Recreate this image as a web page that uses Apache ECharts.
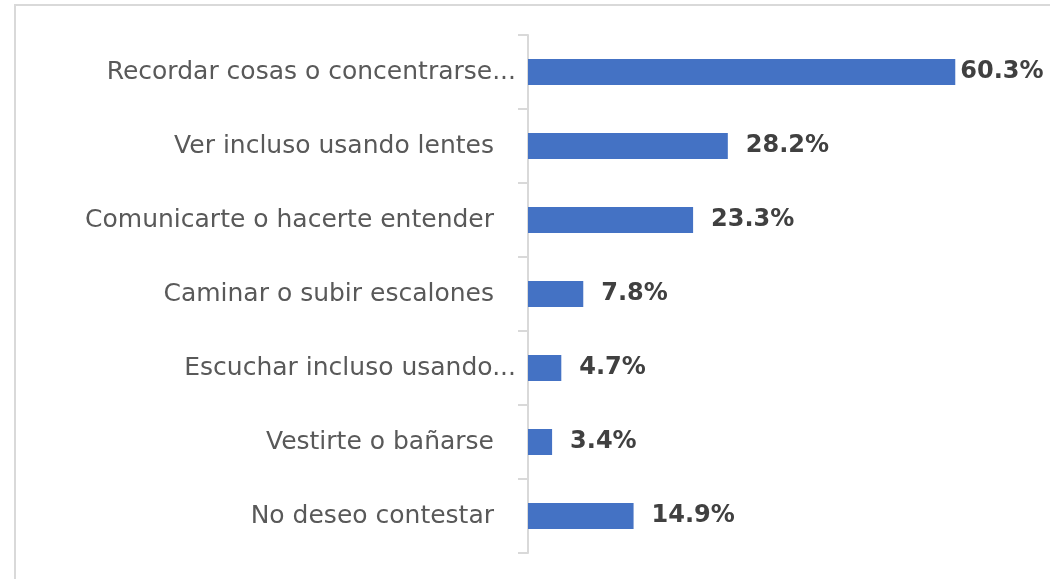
<!DOCTYPE html>
<html>
<head>
<meta charset="utf-8">
<script src="https://cdn.jsdelivr.net/npm/echarts@6/dist/echarts.min.js"></script>
<style>
  html, body { margin: 0; padding: 0; background: #fff; }
  #main { width: 1050px; height: 579px; }
</style>
</head>
<body>
<div id="main"></div>
<script>
// categorias y porcentajes
var categorias = [
  'Recordar cosas o concentrarse...',
  'Ver incluso usando lentes',
  'Comunicarte o hacerte entender',
  'Caminar o subir escalones',
  'Escuchar incluso usando...',
  'Vestirte o bañarse',
  'No deseo contestar'
];
var porcentajes = [60.3, 28.2, 23.3, 7.8, 4.7, 3.4, 14.9];

var chart = echarts.init(document.getElementById('main'));

var datos = porcentajes.map(function (v, i) {
  var item = { value: v };
  if (i === 0) {
    item.label = { distance: 5 };
  }
  return item;
});

var option = {
  backgroundColor: '#ffffff',
  animation: false,
  graphic: [{
    type: 'rect',
    shape: { x: 15, y: 5, width: 1200, height: 800 },
    style: { fill: 'none', stroke: '#d9d9d9', lineWidth: 2 },
    silent: true
  }],
  grid: {
    left: 528,
    right: 26,
    top: 35,
    bottom: 26
  },
  xAxis: {
    type: 'value',
    min: 0,
    max: 70,
    show: false
  },
  yAxis: {
    type: 'category',
    inverse: true,
    data: categorias,
    axisLine: { show: true, lineStyle: { color: '#d9d9d9', width: 2 } },
    axisTick: { show: true, length: 10, lineStyle: { color: '#d9d9d9', width: 2 } },
    axisLabel: {
      margin: 12,
      fontFamily: 'DejaVu Sans',
      fontSize: 25,
      color: '#595959',
      formatter: function (val) {
        if (val.indexOf('...') >= 0) return val;
        return '{n|' + val + '}';
      },
      rich: {
        n: {
          fontFamily: 'DejaVu Sans',
          fontSize: 25,
          color: '#595959',
          padding: [0, 22, 0, 0]
        }
      }
    }
  },
  series: [{
    type: 'bar',
    data: datos,
    barWidth: 26,
    itemStyle: { color: '#4472c4' },
    label: {
      show: true,
      position: 'right',
      distance: 18,
      fontFamily: 'DejaVu Sans',
      fontWeight: 'bold',
      fontSize: 24,
      color: '#404040',
      formatter: function (p) {
        return p.value.toFixed(1) + '%';
      }
    }
  }]
};

chart.setOption(option);
</script>
</body>
</html>
